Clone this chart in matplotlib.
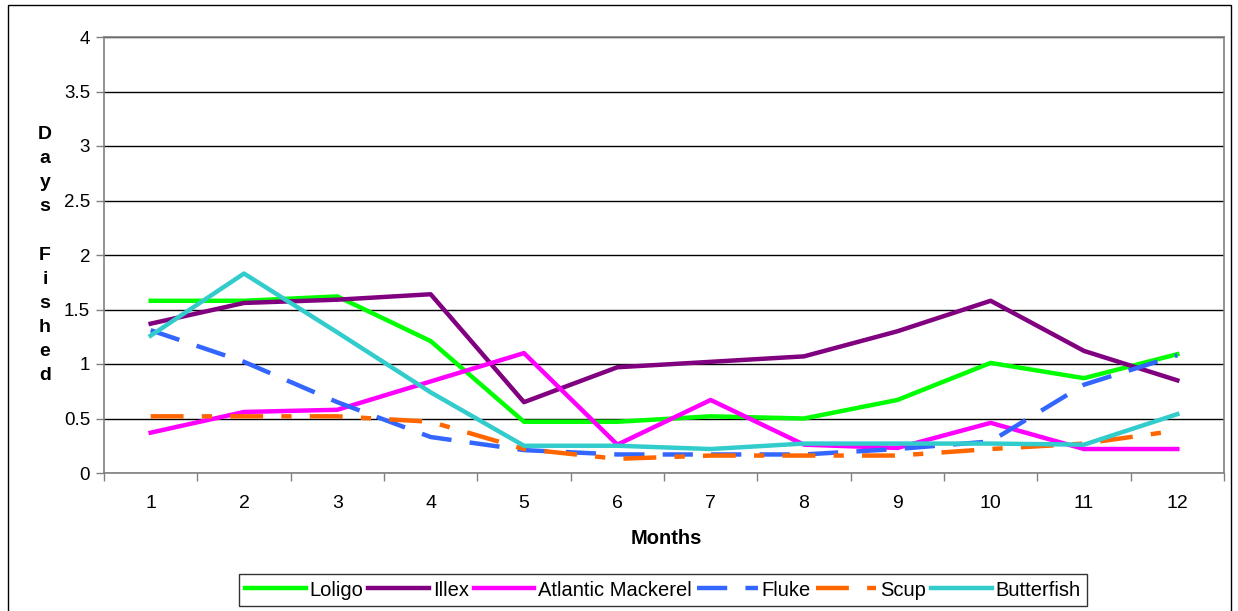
import matplotlib
matplotlib.use("Agg")
import matplotlib.pyplot as plt
from matplotlib.patches import Rectangle
from matplotlib.ticker import FixedLocator

plt.rcParams['font.family'] = ['Liberation Sans', 'DejaVu Sans']

months = [1, 2, 3, 4, 5, 6, 7, 8, 9, 10, 11, 12]
loligo = [1.58, 1.58, 1.62, 1.21, 0.47, 0.47, 0.52, 0.50, 0.67, 1.01, 0.87, 1.09]
illex = [1.37, 1.56, 1.59, 1.64, 0.65, 0.97, 1.02, 1.07, 1.30, 1.58, 1.12, 0.85]
mackerel = [0.37, 0.56, 0.58, 0.84, 1.10, 0.26, 0.67, 0.26, 0.23, 0.46, 0.22, 0.22]
fluke = [1.31, 1.02, 0.65, 0.33, 0.21, 0.17, 0.17, 0.17, 0.22, 0.29, 0.81, 1.08]
scup = [0.52, 0.52, 0.52, 0.47, 0.22, 0.13, 0.16, 0.16, 0.16, 0.22, 0.27, 0.39]
butterfish = [1.26, 1.83, 1.29, 0.74, 0.25, 0.25, 0.22, 0.27, 0.27, 0.27, 0.26, 0.54]
yticks = [0, 0.5, 1, 1.5, 2, 2.5, 3, 3.5, 4]
ytick_labels = ['0', '0.5', '1', '1.5', '2', '2.5', '3', '3.5', '4']

W, H = 1238, 611
fig = plt.figure(figsize=(W / 100, H / 100), dpi=100)
ax = fig.add_axes([104 / W, (H - 473) / H, (1224 - 104) / W, (473 - 37) / H])

lw = 3.2
ax.plot(months, loligo, color='#00ff00', lw=lw, label='Loligo')
ax.plot(months, illex, color='#800080', lw=lw, label='Illex')
ax.plot(months, mackerel, color='#ff00ff', lw=lw, label='Atlantic Mackerel')
ax.plot(months, fluke, color='#3366ff', lw=lw, dashes=(6.8, 4.1), label='Fluke')
ax.plot(months, scup, color='#ff6600', lw=lw, dashes=(7.4, 4.1, 2.3, 4.1), label='Scup')
ax.plot(months, butterfish, color='#33cccc', lw=lw, label='Butterfish')

ax.set_xlim(0.5, 12.5)
ax.set_ylim(0, 4)
ax.yaxis.set_major_locator(FixedLocator(yticks))
ax.set_yticklabels(ytick_labels)
ax.grid(axis='y', color='black', lw=1.0)
ax.set_axisbelow(True)

ax.xaxis.set_major_locator(FixedLocator(months))
ax.xaxis.set_minor_locator(FixedLocator([m + 0.5 for m in range(0, 13)]))
ax.tick_params(axis='x', which='major', length=0, pad=16, labelsize=14)
ax.tick_params(axis='x', which='minor', length=6, width=1, color='#808080')
ax.tick_params(axis='y', length=6, width=1, color='#808080', labelsize=13.5, pad=4)

for side in ['left', 'bottom', 'right', 'top']:
    ax.spines[side].set_color('#808080')
    ax.spines[side].set_linewidth(1.2)

fig.text(666 / W, 1 - 538 / H, 'Months', ha='center', va='center',
         fontsize=14.5, fontweight='bold')
fig.text(45 / W, 1 - 255 / H, '\n'.join('Days Fished'), ha='center', va='center',
         fontsize=14, fontweight='bold', linespacing=1.55)

leg = ax.legend(loc='center', bbox_to_anchor=(663 / W, 1 - 590 / H),
                bbox_transform=fig.transFigure, ncol=6, frameon=True,
                fancybox=False, edgecolor='black', fontsize=14.5,
                handlelength=3.0, handletextpad=0.2, columnspacing=0.25,
                borderpad=0.3, borderaxespad=0)
leg.get_frame().set_linewidth(1.0)

fig.patches.append(Rectangle((8 / W, -0.02), (1231 - 8) / W, 1 - 5 / H + 0.02,
                             transform=fig.transFigure, fill=False,
                             edgecolor='black', lw=1.0))

fig.savefig('out.png', dpi=100)
